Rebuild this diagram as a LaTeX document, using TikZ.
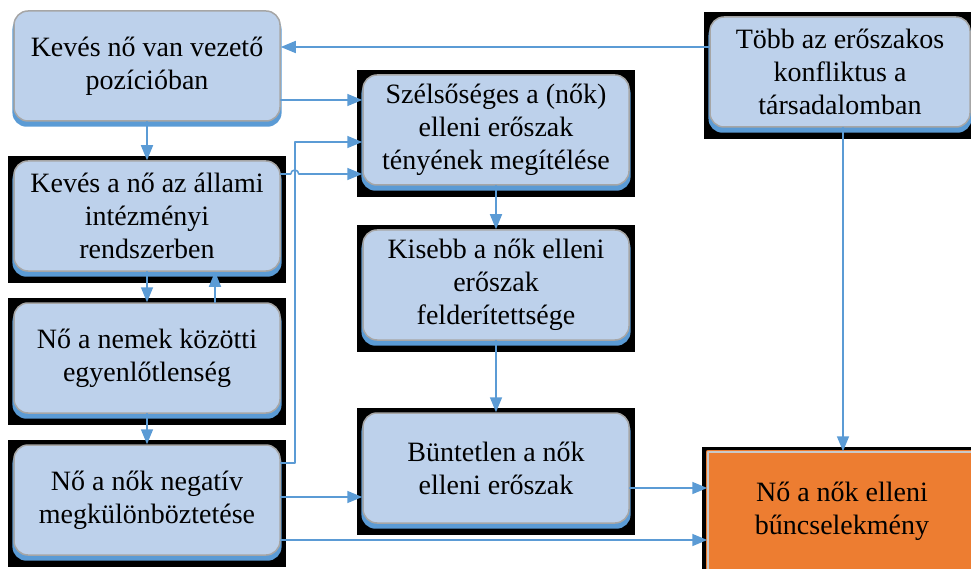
\documentclass[tikz,border=0pt]{standalone}
\usepackage{fontspec}
\setmainfont{Liberation Serif}
\usetikzlibrary{arrows.meta,shadows,backgrounds}
\definecolor{BoxFill}{HTML}{BDD1EB}
\definecolor{BoxEdge}{HTML}{A6A6A6}
\definecolor{LinkBlue}{HTML}{5B9BD5}
\definecolor{CrimeOrange}{HTML}{ED7D31}
\definecolor{CrimeEdge}{HTML}{C9C9C9}
\begin{document}
\begin{tikzpicture}[x=1pt,y=-1pt,line cap=round,line join=round,
  box/.style={draw=BoxEdge,line width=1.5pt,fill=BoxFill,rounded corners=14pt,minimum width=266pt,minimum height=110pt,
    align=center,inner sep=0pt,font=\fontsize{28}{33}\selectfont,
    drop shadow={shadow xshift=0pt,shadow yshift=-5pt,shadow scale=1.012,fill=LinkBlue,opacity=1}},
  crime/.style={draw=CrimeOrange,double=CrimeEdge,double distance=1.5pt,line width=1.5pt,fill=CrimeOrange,
    minimum width=268pt,minimum height=118pt,align=center,inner sep=0pt,font=\fontsize{28}{33}\selectfont},
  link/.style={LinkBlue,line width=1.6pt,-{Triangle[length=15pt,width=12pt]}}]
  \useasboundingbox (0,0) rectangle (971,569);
  \node[box] (vezeto) at (147,66) {Kevés nő van vezető\\pozícióban};
  \node[box] (allami) at (147,216) {Kevés a nő az állami\\intézményi\\rendszerben};
  \node[box] (egyenlo) at (147,358) {Nő a nemek közötti\\egyenlőtlenség};
  \node[box] (negativ) at (147,500) {Nő a nők negatív\\megkülönböztetése};
  \node[box] (szels) at (496,130) {Szélsőséges a (nők)\\elleni erőszak\\tényének megítélése};
  \node[box] (kisebb) at (496,285) {Kisebb a nők elleni\\erőszak\\felderítettsége};
  \node[box] (buntet) at (496,468) {Büntetlen a nők\\elleni erőszak};
  \node[box,minimum width=260pt] (tobb) at (840,72) {Több az erőszakos\\konfliktus a\\társadalomban};
  \node[crime] (buncs) at (842,511) {Nő a nők elleni\\bűncselekmény};
  \begin{scope}[on background layer]
    \foreach \n in {allami,egyenlo,negativ,szels,kisebb,buntet,tobb,buncs}
      {\fill ([shift={(-5pt,4pt)}]\n.north west) rectangle ([shift={(5pt,-11pt)}]\n.south east);}
  \end{scope}
  % left column
  \draw[link] (vezeto) -- (allami);
  \draw[link] (allami) -- (egyenlo);
  \draw[link] (egyenlo) -- (negativ);
  \draw[link] ([xshift=68pt]egyenlo.north) -- ([xshift=68pt]allami.south);
  % into the middle column
  \draw[link] ([yshift=-34pt]vezeto.east) coordinate (t) -- (t -| szels.west);
  \draw[link] ([yshift=42pt]allami.east) coordinate (t) -- ++(10pt,0) arc[start angle=180,end angle=0,radius=4pt] -- (t -| szels.west);
  \draw[link] ([yshift=37pt]negativ.east) -- ++(14pt,0) |- ([yshift=-12pt]szels.west);
  \draw[link] ([yshift=3pt]negativ.east) coordinate (t) -- (t -| buntet.west);
  \draw[link] (szels) -- (kisebb);
  \draw[link] (kisebb) -- (buntet);
  % into the crime box
  \draw[link] ([yshift=-40pt]negativ.east) coordinate (t) -- (t -| buncs.west);
  \draw[link] ([yshift=-20pt]buntet.east) coordinate (t) -- (t -| buncs.west);
  \draw[link] ([yshift=25pt]tobb.west) coordinate (t) -- (t -| vezeto.east);
  \draw[link] ([xshift=3pt]tobb.south) coordinate (t) -- (t |- buncs.north);
\end{tikzpicture}
\end{document}
